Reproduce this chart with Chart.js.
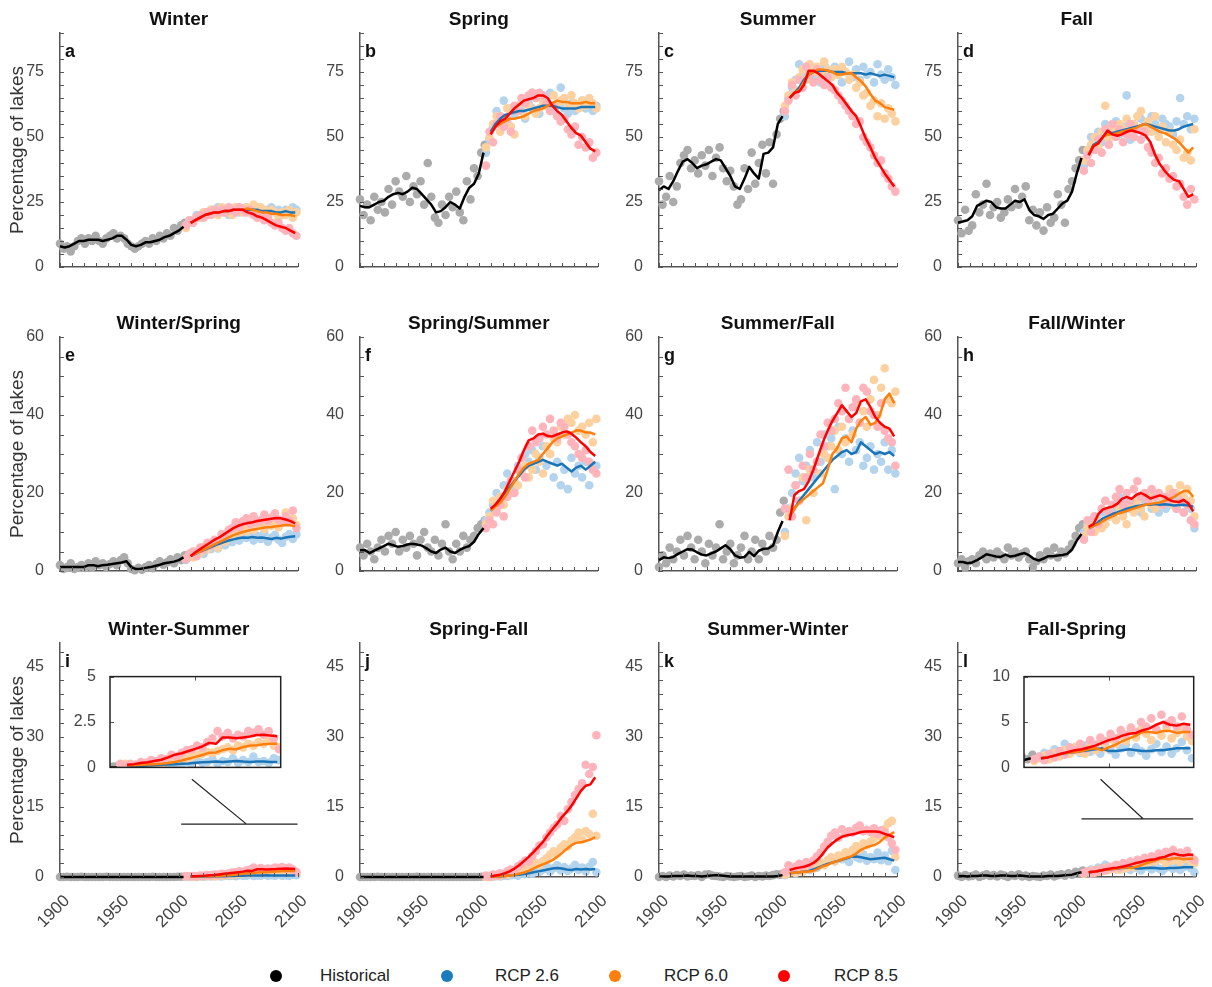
<!DOCTYPE html>
<html>
<head>
<meta charset="utf-8">
<title>Percentage of lakes by seasonal regime</title>
<script src="https://cdn.jsdelivr.net/npm/chart.js@4"></script>
<style>
  body { margin: 0; background: #fff; font-family: "Liberation Sans", Arial, sans-serif; }
  #wrap { position: relative; width: 1212px; height: 987px; overflow: hidden; }
  canvas { position: absolute; }
  .key { position: absolute; top: 966px; font-size: 17px; color: #222; line-height: 20px; }
  .dot { position: absolute; top: 970px; width: 12px; height: 12px; border-radius: 50%; }
</style>
</head>
<body>
<div id="wrap">
  <span class="dot" style="left:270px;background:#000"></span><span class="key" style="left:320px">Historical</span>
  <span class="dot" style="left:441px;background:#1a7bbf"></span><span class="key" style="left:495px">RCP 2.6</span>
  <span class="dot" style="left:609px;background:#ff7f0e"></span><span class="key" style="left:664px">RCP 6.0</span>
  <span class="dot" style="left:778px;background:#ff0000"></span><span class="key" style="left:834px">RCP 8.5</span>
</div>
<script>
Chart.defaults.font.family = '"Liberation Sans", Arial, sans-serif';

// x positions (years)
const histDotYears = [1900,1903,1906,1909,1912,1915,1918,1921,1924,1927,1930,1933,1936,1939,1942,1945,1948,1951,1954,1957,1960,1963,1966,1969,1972,1975,1978,1981,1984,1987,1990,1993,1996,1999,2002,2005];
const histLineYears = [1900,1904,1908,1912,1916,1920,1924,1928,1932,1936,1940,1944,1948,1952,1956,1960,1964,1968,1972,1976,1980,1984,1988,1992,1996,2000,2004];
const rcpDotYears = [2006,2009,2012,2015,2018,2021,2024,2027,2030,2033,2036,2039,2042,2045,2048,2051,2054,2057,2060,2063,2066,2069,2072,2075,2078,2081,2084,2087,2090,2093,2096,2099];
const rcpLineYears = [2010,2014,2018,2022,2026,2030,2034,2038,2042,2046,2050,2054,2058,2062,2066,2070,2074,2078,2082,2086,2090,2094,2098];

// ticks
const xMinorTicks = [1900,1910,1920,1930,1940,1950,1960,1970,1980,1990,2000,2010,2020,2030,2040,2050,2060,2070,2080,2090,2100];
const xTickLabels = [1900,1950,2000,2050,2100];
const rowYMax = [90, 60, 50];
const rowYMinor = [
  [0,5,10,15,20,25,30,35,40,45,50,55,60,65,70,75,80,85,90],
  [0,5,10,15,20,25,30,35,40,45,50,55,60],
  [0,3,6,9,12,15,18,21,24,27,30,33,36,39,42,45,48]
];
const rowYLabels = [[0,25,50,75],[0,20,40,60],[0,15,30,45]];

// a  Winter
const aHistDots = [9,7,8,6,8,10,11,9,11,10,12,10,9,11,12,13,11,12,11,9,8,7,8,9,10,9,11,10,12,11,13,12,15,14,16,17];
const aHistLine = [8,7.5,8,9,10,10,10.5,10.5,10.5,10,10.5,11,12,12,10.5,8.5,8,8.5,9.5,9.5,10,10.5,11.5,12,13,14,15.5];
const a26Dots = [16,18,17,20,19,21,20,22,21,23,21,22,20,22,23,21,22,23,21,22,23,22,21,22,23,21,22,20,22,21,23,22];
const a26Line = [17,18,19,20,20.5,21,21,21.5,21.5,22,22,22,22,22,22,21.5,21.5,21.5,21,21,21.5,21,21];
const a60Dots = [15,17,18,19,19,21,20,22,21,20,23,21,22,20,23,22,21,23,22,24,21,23,22,20,22,21,19,21,20,22,19,21];
const a60Line = [17,18,19,20,20.5,21,21,21.5,21.5,22,22,22,22.5,22,21.5,21,21,20.5,20.5,20,20,20,19.5];
const a85Dots = [16,18,17,19,20,19,21,20,22,21,22,21,23,22,21,23,22,21,22,20,19,20,18,19,17,16,17,15,14,15,13,12];
const a85Line = [17,18,19,20,20.5,21,21,21.5,21.5,22,22,22,21,20.5,19.5,19,18,17,16,15.5,15,14,13];

// b  Spring
const bHistDots = [26,20,24,18,27,22,25,21,30,24,33,29,27,35,25,31,28,33,24,40,27,19,17,24,20,27,23,29,21,18,33,26,38,35,44,47];
const bHistLine = [23.5,23,23,24,25,25.5,27,28,28.5,28,29,30.5,30,28,26,24,21,21.5,23,25,24,22.5,27,30.5,32,36,44];
const b26Dots = [44,49,54,60,58,64,56,61,59,62,60,57,63,61,66,59,62,64,67,60,62,69,61,59,63,60,62,64,61,63,60,62];
const b26Line = [52,55,57,58.5,59,59.5,60,60,60.5,61,61.5,62,62,62,61.5,61,61,61,61,61.5,61.5,61.5,61.5];
const b60Dots = [46,50,55,58,52,57,61,54,51,60,63,58,62,67,59,61,64,62,60,66,63,64,65,62,66,63,61,64,62,65,63,61];
const b60Line = [51,54,55,56,57,57,57.5,58,59,60,60.5,61,62,63,64,63.5,63.5,63,63,63,63.5,63,63];
const b85Dots = [39,52,48,55,58,54,57,52,62,60,65,63,66,67,65,67,66,63,60,62,58,56,57,53,51,54,47,50,46,48,42,44];
const b85Line = [51,54,56,57,59,61,62.5,64,64.5,65,66,66,65,62,60,58.5,56,53.5,51.5,50.5,48,45.5,44.5];

// c  Summer
const cHistDots = [33,24,27,35,25,31,40,43,45,38,41,36,43,39,45,35,42,46,38,33,37,31,24,26,38,30,44,32,40,47,36,48,32,51,57,60];
const cHistLine = [29.5,31,30,33,37,40.5,41.5,40,38,39,39.5,40.5,41.5,41,38,35,31,30,34,38.5,36,34,43.5,44,46,55,58];
const c26Dots = [58,65,69,72,78,74,77,75,73,76,71,78,75,73,77,74,71,75,79,73,76,72,77,74,75,71,78,74,72,76,73,70];
const c26Line = [65,67,69,72,74,75,75.5,75.5,75.5,75,75,75,74.5,74.5,74.5,74.5,74,74.5,74,73.5,74,73.5,73];
const c60Dots = [62,66,71,68,73,76,72,78,75,77,74,79,76,73,76,74,77,75,72,74,69,71,66,67,62,64,58,63,57,61,59,56];
const c60Line = [65,67,68,71,74,75,76,76,75.5,75,74,74,74.5,74.5,73,71.5,69.5,66.5,64,63,61.5,61,60.5];
const c85Dots = [60,64,70,66,72,69,77,74,71,76,72,70,73,69,68,66,64,62,60,58,55,56,50,48,46,43,40,41,36,34,31,29];
const c85Line = [65,67,67.5,70,75.5,75.5,74.5,73,71.5,70,67,65,62.5,60,58,54,49.5,46,42,39,36,33.5,31];

// d  Fall
const dHistDots = [18,13,22,14,16,28,21,24,32,20,23,25,19,21,26,23,30,24,27,31,18,22,16,21,14,23,17,19,28,24,17,30,33,38,41,45];
const dHistLine = [17,17.5,18,19.5,23.5,24.5,25.5,25,23,22.5,22.5,24,25.5,25,26,22,20,19.5,18.5,20,20.5,22.5,24.5,25.5,29,36,42];
const d26Dots = [39,44,50,46,52,48,55,50,53,56,51,54,66,49,55,53,57,51,54,58,55,52,57,55,54,51,56,65,55,58,53,57];
const d26Line = [43,47,48,50,51.5,51.5,52,52.5,53,53.5,54,54.5,55,54.5,54,53.5,53,52.5,52.5,53,54,54.5,55];
const d60Dots = [41,45,47,50,46,52,62,49,54,51,55,53,57,52,55,58,60,54,56,52,58,50,54,48,52,47,45,49,42,44,41,53];
const d60Line = [43,46.5,47.5,50,51,51,51.5,52,52.5,53,53.5,54.5,55,54,53,52,51.5,50.5,49.5,48,46,44,46];
const d85Dots = [37,43,40,45,49,44,53,47,55,50,53,48,51,55,50,53,49,52,46,44,40,42,36,38,34,35,31,32,27,24,30,26];
const d85Line = [43,46.5,47.5,50,52.5,51,50.5,51,52,52.5,52,51.5,50.5,48,43,39.5,37,35,33.5,33,30,27,28];

// e  Winter/Spring
const eHistDots = [1.5,0.5,1,2,0.5,1,1.5,0.8,2,1,2.5,1.5,2,1,1.8,2.5,1.5,2.8,3.5,2,0.5,0.2,0.8,0.3,1,1.5,0.7,1.8,2.5,1.6,2.2,3,2,3.5,2.8,4];
const eHistLine = [1,1,1,1,1,1,1.5,1.5,1.2,1.5,1.6,1.8,2,2.2,2.5,1,0.5,0.6,0.8,1,1.3,1.6,2,2.2,2.4,2.8,3.5];
const e26Dots = [2.8,3.6,4.6,3.9,5.2,4.4,6,5.6,6.4,5.8,7.4,6.6,8,7.4,8.8,7.8,9.6,8.5,9.2,7.8,9,8.2,9.8,7.5,8.6,9.3,8,7.2,8.8,9.5,8.2,9.4];
const e26Line = [3.8,4.4,5,5.5,6,6.5,7,7.4,7.8,8.1,8.4,8.6,8.5,8.7,8.5,8.6,8.4,8.2,8.5,8.3,8.6,8.8,8.9];
const e60Dots = [3.2,4,3.5,5,4.6,6.2,5.5,6.8,7,6,8.2,7.5,9.5,8.8,10.5,9.8,11,10.2,12,10.6,11.5,12.5,10.8,12.2,11.6,13,11.2,12.4,15,12.6,13.5,11.8];
const e60Line = [3.8,4.5,5,5.6,6.2,6.8,7.4,8,8.6,9.2,9.6,10,10.3,10.6,10.8,11,11.2,11.3,11.5,11.6,11.8,11.7,11.5];
const e85Dots = [3,4.5,5,3.8,6,5.5,7.2,6.5,8,7.5,9.5,8.6,10.5,11,12.5,11.2,12.8,13.5,12,14,12.5,13,14.5,12.8,13.8,14.8,13.2,12.5,14,13,15.5,11];
const e85Line = [3.8,4.8,5.6,6.4,7.2,8,8.6,9.4,10.2,11,11.6,12,12.3,12.5,12.8,13,13.2,13.4,13.6,13.5,13.2,12.8,12.2];

// f  Spring/Summer
const fHistDots = [6,4,7,5,3,6,8,5,9,7,10,5,8,6,9,7,4,8,10,6,5,8,4,7,12,5,3,7,5,9,6,8,9,11,12,13];
const fHistLine = [5.3,5.4,4.6,5.2,5.8,6.4,7,6.6,6.2,6.4,6.8,7,6.8,6.5,5.8,5,4.6,5.5,6,5,4.6,5.4,6,6.4,7.5,9.5,11];
const f26Dots = [13,15,17,20,18,22,25,23,21,27,26,30,28,31,26,29,32,27,30,24,28,22,26,21,29,25,27,24,28,22,26,27];
const f26Line = [15.5,17,18.5,20,21.5,23,24.5,26,27,27.5,28,28.5,28,27.5,27,27.5,26.5,25.5,26.5,27,26,27,28];
const f60Dots = [12,14,18,16,19,17,21,20,23,22,25,27,24,26,30,28,25,32,30,34,33,37,35,39,38,40,36,37,35,38,33,39];
const f60Line = [15.5,16.5,17.5,19,21,23,25,26.5,27.5,28,28.5,30,31.5,33,34,34.5,35,35.5,36,36,35.5,35.5,35];
const f85Dots = [11,13,12,15,17,14,19,23,20,26,29,24,32,36,33,34,37,35,39,36,34,38,37,35,33,32,30,29,31,28,26,25];
const f85Line = [16,17,18.5,20.5,23,25.5,28,31,33.5,34,35,35.2,34.6,34.5,35,35.5,35.8,35.2,34.2,33,32,30.5,29.5];

// g  Summer/Fall
const gHistDots = [1,4,2,6,3,5,8,4,9,6,3,8,5,2,7,4,6,12,3,5,7,2,4,6,9,3,5,8,3,7,5,9,6,8,15,18];
const gHistLine = [2.8,3.5,3.3,3.6,4.4,5,5.6,5.5,4.8,4.2,4,4.5,5,5.8,6.6,5.6,4,3.4,3.6,4.9,3.8,5.2,5.7,5.8,6.5,10,12.8];
const g26Dots = [10,16,20,25,29,23,27,31,24,33,28,35,32,34,21,37,30,34,28,36,31,33,27,29,32,26,30,28,33,26,31,25];
const g26Line = [14,16,18,19.5,21,22.5,24,25.5,27,28.5,29.5,30.5,31,30,30.5,33,32,31,30,30.5,30,30.5,29.5];
const g60Dots = [9,14,16,22,18,24,13,26,20,28,25,30,29,32,36,31,37,33,39,35,43,38,41,37,44,49,40,47,52,44,43,46];
const g60Line = [14,16,17.5,18.5,19.5,20.5,21.5,22.5,26,30,31.5,34,34.5,33,36.5,38.5,39.5,37.5,38,40,44,45.5,43];
const g85Dots = [16,26,14,22,18,27,24,30,26,28,35,32,38,36,39,43,41,47,39,42,44,38,47,46,41,40,37,43,36,34,33,27];
const g85Line = [13,19.5,20.5,21,23,26,29.5,33,36,38.5,40.5,42.5,41,39.5,40.5,43.5,44,42,39.5,38,37,36.5,34.5];

// h  Fall/Winter
const hHistDots = [2,3,1,2.5,3,2,4,5,3,4.5,3.5,5,4,3,6,4,5,3.5,4.5,5,3,1,2.5,4,3,5,4,6,3.5,5,4.5,5.5,7,9,11,12];
const hHistLine = [2.3,2.3,2,2.2,2.8,3.5,4.3,4,3.7,3.6,4.2,3.7,3.9,4.3,4.6,4,3.1,2.7,3.2,3.8,3.8,4,4.1,4.4,5.5,7.8,9.5];
const h26Dots = [10,12,13,14,12,15,18,14,16,17,19,15,18,16,17,19,15,18,20,16,17,15,18,16,17,19,16,18,15,17,16,11];
const h26Line = [11,11.5,12.5,13.5,14,14.6,15,15.5,16,16.3,16.6,16.8,17,17,17.2,17,17.1,17,16.8,16.9,17,16.8,16.5];
const h60Dots = [9,11,12,10,13,11,12,15,14,13,16,14,12,17,15,18,16,14,19,17,16,20,19,18,21,17,20,22,19,21,18,14];
const h60Line = [11,11.5,12,12.8,13.5,14,14.6,15,15.4,15.8,16.2,16.6,17,17.2,17.4,17.6,18,18.4,19,19.8,20.5,20.5,19];
const h85Dots = [8,13,10,14,12,16,18,15,17,19,21,17,20,18,21,23,19,20,18,21,19,20,17,19,18,20,16,18,15,17,13,12];
const h85Line = [11.3,12,14.5,15.8,16.2,16.5,17.2,18.5,19,18.5,19.5,20,19.4,18.6,19,19.4,19,18.2,17.8,17.7,18.2,17.3,15.3];

// i  Winter-Summer
const iHistDots = [0,0,0.05,0,0,0,0.05,0,0,0,0,0,0,0.05,0,0,0,0,0,0,0,0,0,0,0,0,0.05,0,0,0,0,0,0,0.05,0.05,0.1];
const iHistLine = [0,0,0,0,0,0,0,0,0,0,0,0,0,0,0,0,0,0,0,0,0,0,0,0,0,0,0];
const i26Dots = [0,0.05,0.1,0,0.1,0.05,0.15,0.1,0.2,0.15,0.1,0.25,0.2,0.3,0.15,0.4,0.25,0.3,0.45,0.2,0.35,0.3,0.5,0.25,0.4,0.3,0.6,0.3,0.35,0.25,0.5,0.4];
const i26Line = [0.05,0.06,0.08,0.1,0.12,0.14,0.16,0.18,0.2,0.22,0.25,0.28,0.3,0.32,0.3,0.33,0.35,0.32,0.3,0.33,0.32,0.3,0.3];
const i60Dots = [0.1,0.2,0.05,0.15,0.1,0.2,0.15,0.25,0.1,0.3,0.4,0.35,0.5,0.45,0.6,0.7,0.75,0.85,0.8,0.9,1.0,1.1,0.95,1.2,1.1,1.3,1.2,1.4,1.3,1.5,1.2,1.1];
const i60Line = [0.1,0.12,0.14,0.16,0.18,0.2,0.24,0.3,0.38,0.48,0.58,0.68,0.8,0.82,0.95,1.03,1.0,1.12,1.2,1.22,1.27,1.3,1.3];
const i85Dots = [0.2,0.1,0.2,0.15,0.3,0.25,0.4,0.35,0.5,0.45,0.7,0.6,0.8,0.95,1.0,1.2,1.1,1.4,1.6,2.0,1.7,1.9,1.6,1.8,1.7,2.0,1.9,2.1,1.8,2.0,1.6,1.0];
const i85Line = [0.15,0.18,0.24,0.28,0.35,0.42,0.55,0.7,0.78,0.9,1.02,1.15,1.35,1.3,1.65,1.65,1.6,1.65,1.7,1.78,1.8,1.75,1.72];

// j  Spring-Fall
const jHistDots = [0,0,0,0,0,0.05,0,0,0,0,0,0,0,0,0,0,0.05,0,0,0,0,0,0,0,0,0,0,0,0,0,0,0,0,0,0.05,0.1];
const jHistLine = [0,0,0,0,0,0,0,0,0,0,0,0,0,0,0,0,0,0,0,0,0,0,0,0,0,0,0];
const j26Dots = [0,0.1,0,0.2,0.1,0.3,0.2,0.4,0.5,0.3,0.8,0.6,1.0,0.7,1.3,1.1,1.6,2.4,1.2,1.9,2.5,1.4,2.1,1.3,1.8,2.6,1.5,2.0,1.2,2.2,3.2,1.0];
const j26Line = [0.05,0.1,0.15,0.2,0.3,0.4,0.5,0.65,0.8,1.0,1.2,1.4,1.6,1.8,1.9,1.8,1.6,1.5,1.7,1.6,1.7,1.6,1.7];
const j60Dots = [0,0.2,0.1,0.4,0.3,0.6,0.5,0.8,1.2,1.0,1.6,2.2,1.9,2.7,3.0,2.6,3.4,4.0,4.8,5.5,5.0,6.3,7.0,6.5,7.8,8.5,9.5,8.0,9.8,9.2,13.5,8.8];
const j60Line = [0.05,0.1,0.15,0.2,0.3,0.45,0.7,0.95,1.3,1.8,2.3,2.7,3.1,3.6,4.3,5.1,6,6.8,7.3,7.4,7.7,8,8.5];
const j85Dots = [0.3,0,0.5,0.2,0.8,0.5,1.2,1.6,1.1,2.3,2.8,3.5,3.3,4.5,5.5,6.7,7,8.5,9.5,10.5,11.2,13,12,14.5,16,17.5,18.8,20,24,22,23.5,30.3];
const j85Line = [0.1,0.3,0.5,0.8,1.2,1.8,2.5,3.4,4.3,5.3,6.4,7.5,8.9,10.2,11.4,12.8,13.9,15.2,16.8,18.4,19.5,19.8,21.3];

// k  Summer-Winter
const kHistDots = [0,0.2,0,0.3,0.1,0.4,0.2,0.5,0.1,0.3,0.2,0.4,0,0.5,0.6,0.3,0.2,0.1,0,0.2,0.1,0,0.1,0.2,0,0.1,0.3,0,0.2,0.1,0.3,0.2,0.4,0.6,0.5,0.8];
const kHistLine = [0.1,0.1,0.1,0.2,0.2,0.2,0.3,0.2,0.2,0.1,0.2,0.3,0.4,0.3,0.2,0.1,0.1,0.1,0.1,0.1,0.1,0.1,0.1,0.1,0.1,0.2,0.4];
const k26Dots = [0.4,0.9,1.3,0.8,1.6,1.2,2,1.5,2.6,2,3.1,2.8,3.6,4.1,3.3,4.5,3.8,4.4,3.2,5,4.3,3.9,4.8,3.5,4.2,3.8,5.2,3.6,4.6,3.4,5.6,1.5];
const k26Line = [0.8,0.9,1.0,1.1,1.3,1.6,2.0,2.4,2.8,3.1,3.4,3.7,4.0,4.3,4.4,4.2,4.0,3.8,3.9,4.0,4.1,3.8,3.5];
const k60Dots = [0.5,0.8,1.2,0.9,1.4,1.1,1.6,2.2,1.8,2.6,3,2.5,3.6,4.2,3.4,4.6,4.1,5.3,4.8,5.8,6.6,6,7.2,6.8,7.6,8.3,9,8.6,10.2,11.5,12,4.3];
const k60Line = [0.8,0.9,1.0,1.1,1.2,1.3,1.8,2.3,2.6,3.1,3.4,3.8,4.1,4.4,5.0,5.8,6.3,6.6,6.9,7.5,8.4,9.0,9.6];
const k85Dots = [1,2.5,1.5,2.2,2.8,2,3.2,2.6,3.5,4.4,5.2,6.5,7.5,8.8,9.5,8.4,10.2,9.2,9.8,9.5,10.5,11,9.8,10.1,9.6,10.4,9.2,10,9.5,8.5,7.2,5.8];
const k85Line = [1.5,1.8,2.0,2.2,2.5,3.0,3.8,5.0,6.3,7.2,8.0,8.6,8.9,9.1,9.3,9.6,9.7,9.7,9.7,9.6,9.2,8.9,8.5];

// l  Fall-Spring
const lHistDots = [0.3,0,0.4,0.1,0.2,0.5,0,0.3,0.6,0.2,0.4,0.1,0.5,0.3,0,0.4,0.2,0.6,0.1,0.3,0,0.2,0.1,0,0.3,0.2,0.5,0.1,0.4,0.6,0.3,0.8,0.5,1.1,0.9,1.4];
const lHistLine = [0.2,0.2,0.1,0.2,0.2,0.3,0.3,0.2,0.2,0.3,0.3,0.2,0.2,0.3,0.2,0.1,0.1,0.1,0.1,0.2,0.2,0.2,0.3,0.4,0.5,0.8,1.0];
const l26Dots = [0.8,1.2,1.6,1.1,2.0,1.4,2.6,1.8,2.2,1.6,2.4,1.7,2.0,1.5,2.3,1.9,1.4,2.1,2.5,1.6,2.2,1.8,1.3,2.0,2.6,1.7,2.3,1.5,2.1,2.8,1.9,1.0];
const l26Line = [1.0,1.1,1.3,1.5,1.6,1.7,1.8,1.9,2.0,2.1,1.8,1.8,1.9,2.0,1.9,1.8,1.8,1.9,1.9,2.0,2.1,2.1,2.1];
const l60Dots = [0.7,1.0,1.3,0.9,1.6,1.2,1.9,1.5,2.2,1.7,1.5,2.4,1.9,2.8,2.1,3.1,2.6,3.5,2.9,4.0,3.3,4.2,3.7,3.0,4.1,3.5,4.4,3.2,3.8,4.3,3.4,2.9];
const l60Line = [1.0,1.1,1.3,1.5,1.6,1.7,1.8,2.0,2.1,1.9,2.2,2.5,2.9,3.2,3.5,3.9,3.9,3.8,4.0,4.0,3.8,3.9,3.9];
const l85Dots = [0.9,1.2,0.8,1.5,1.1,1.8,1.4,2.2,1.9,2.6,2.0,3.0,2.5,3.3,2.9,3.7,3.2,4.1,3.6,4.4,3.9,5.0,4.5,5.4,4.2,5.8,4.8,5.2,4.5,5.6,4.2,3.6];
const l85Line = [1.0,1.1,1.3,1.5,1.7,1.9,2.0,2.2,2.4,2.7,3.0,3.2,3.5,3.7,3.8,4.1,4.3,4.7,5.0,4.7,4.6,4.8,4.7];

// inset axes and the callout lines (main-panel data units)
const insetXTicks = [2050];
const iInsetYTicks = [0, 2.5, 5];
const lInsetYTicks = [0, 5, 10];
const iCallout = [[2002, 11.3, 2100, 11.3], [2011, 20.9, 2057, 11.3]];
const lCallout = [[2004, 12.4, 2098, 12.4], [2020, 20.9, 2056, 12.4]];

const panels = [
  {letter:'a', title:'Winter',        row:0, col:0, hist:[aHistDots,aHistLine], r26:[a26Dots,a26Line], r60:[a60Dots,a60Line], r85:[a85Dots,a85Line]},
  {letter:'b', title:'Spring',        row:0, col:1, hist:[bHistDots,bHistLine], r26:[b26Dots,b26Line], r60:[b60Dots,b60Line], r85:[b85Dots,b85Line]},
  {letter:'c', title:'Summer',        row:0, col:2, hist:[cHistDots,cHistLine], r26:[c26Dots,c26Line], r60:[c60Dots,c60Line], r85:[c85Dots,c85Line]},
  {letter:'d', title:'Fall',          row:0, col:3, hist:[dHistDots,dHistLine], r26:[d26Dots,d26Line], r60:[d60Dots,d60Line], r85:[d85Dots,d85Line]},
  {letter:'e', title:'Winter/Spring', row:1, col:0, hist:[eHistDots,eHistLine], r26:[e26Dots,e26Line], r60:[e60Dots,e60Line], r85:[e85Dots,e85Line]},
  {letter:'f', title:'Spring/Summer', row:1, col:1, hist:[fHistDots,fHistLine], r26:[f26Dots,f26Line], r60:[f60Dots,f60Line], r85:[f85Dots,f85Line]},
  {letter:'g', title:'Summer/Fall',   row:1, col:2, hist:[gHistDots,gHistLine], r26:[g26Dots,g26Line], r60:[g60Dots,g60Line], r85:[g85Dots,g85Line]},
  {letter:'h', title:'Fall/Winter',   row:1, col:3, hist:[hHistDots,hHistLine], r26:[h26Dots,h26Line], r60:[h60Dots,h60Line], r85:[h85Dots,h85Line]},
  {letter:'i', title:'Winter-Summer', row:2, col:0, hist:[iHistDots,iHistLine], r26:[i26Dots,i26Line], r60:[i60Dots,i60Line], r85:[i85Dots,i85Line],
   inset:{left:110, top:671, w:171, h:108, max:5, yTicks:iInsetYTicks}, callout:iCallout},
  {letter:'j', title:'Spring-Fall',   row:2, col:1, hist:[jHistDots,jHistLine], r26:[j26Dots,j26Line], r60:[j60Dots,j60Line], r85:[j85Dots,j85Line]},
  {letter:'k', title:'Summer-Winter', row:2, col:2, hist:[kHistDots,kHistLine], r26:[k26Dots,k26Line], r60:[k60Dots,k60Line], r85:[k85Dots,k85Line]},
  {letter:'l', title:'Fall-Spring',   row:2, col:3, hist:[lHistDots,lHistLine], r26:[l26Dots,l26Line], r60:[l60Dots,l60Line], r85:[l85Dots,l85Line],
   inset:{left:1024, top:671, w:170, h:108, max:10, yTicks:lInsetYTicks}, callout:lCallout}
];

const colLeft = [0, 300, 599, 898];
const rowTop = [0, 304, 610];

// titles, panel letters, inward tick marks, inset frame and callouts
const panelDeco = {
  id: 'panelDeco',
  beforeDraw(chart, args, o) {
    if (!o.box) return;
    const a = chart.chartArea;
    chart.ctx.save();
    chart.ctx.fillStyle = '#fff';
    chart.ctx.fillRect(a.left, a.top, a.right - a.left, a.bottom - a.top);
    chart.ctx.restore();
  },
  afterDraw(chart, args, o) {
    const ctx = chart.ctx, a = chart.chartArea, sx = chart.scales.x, sy = chart.scales.y;
    ctx.save();
    ctx.strokeStyle = '#555';
    ctx.lineWidth = 1;
    ctx.beginPath();
    o.xTicks.forEach(v => {
      const px = Math.round(sx.getPixelForValue(v)) + 0.5;
      ctx.moveTo(px, a.bottom); ctx.lineTo(px, a.bottom - 4);
      if (o.box) { ctx.moveTo(px, a.top); ctx.lineTo(px, a.top + 4); }
    });
    o.yTicks.forEach(v => {
      const py = Math.round(sy.getPixelForValue(v)) + 0.5;
      ctx.moveTo(a.left, py); ctx.lineTo(a.left + 4, py);
    });
    ctx.stroke();
    if (o.box) {
      ctx.strokeStyle = '#222';
      ctx.lineWidth = 1.5;
      ctx.strokeRect(a.left, a.top, a.right - a.left, a.bottom - a.top);
    }
    if (o.callout) {
      ctx.strokeStyle = '#222';
      ctx.lineWidth = 1.2;
      ctx.beginPath();
      o.callout.forEach(s => {
        ctx.moveTo(sx.getPixelForValue(s[0]), sy.getPixelForValue(s[1]));
        ctx.lineTo(sx.getPixelForValue(s[2]), sy.getPixelForValue(s[3]));
      });
      ctx.stroke();
    }
    if (o.title) {
      ctx.fillStyle = '#111';
      ctx.font = 'bold 19px "Liberation Sans", Arial, sans-serif';
      ctx.textAlign = 'center';
      ctx.fillText(o.title, (a.left + a.right) / 2, a.top - 8);
      ctx.font = 'bold 18px "Liberation Sans", Arial, sans-serif';
      ctx.textAlign = 'left';
      ctx.fillText(o.letter, a.left + 5, a.top + 24);
    }
    ctx.restore();
  }
};

function pts(xs, ys) {
  return ys.map((y, i) => ({x: xs[i], y: y}));
}

function buildSets(p, clip) {
  const line = (xs, ys, color, order) => ({
    data: pts(xs, ys), showLine: true, borderColor: color, borderWidth: 2.5,
    pointRadius: 0, borderJoinStyle: 'round', order: order, clip: clip
  });
  const dots = (xs, ys, color, order) => ({
    data: pts(xs, ys), showLine: false, pointRadius: 4.3, pointBorderWidth: 0,
    backgroundColor: color, pointBackgroundColor: color, order: order, clip: clip
  });
  return [
    line(rcpLineYears, p.r85[1], '#ff0000', 1),
    line(rcpLineYears, p.r60[1], '#ff7f0e', 2),
    line(rcpLineYears, p.r26[1], '#1a74b8', 3),
    line(histLineYears, p.hist[1], '#000000', 4),
    dots(rcpDotYears, p.r85[0], '#ffb3bb', 5),
    dots(rcpDotYears, p.r60[0], '#fdd09f', 6),
    dots(rcpDotYears, p.r26[0], '#b3d4ec', 7),
    dots(histDotYears, p.hist[0], '#ababab', 8)
  ];
}

function addCanvas(left, top, w, h) {
  const c = document.createElement('canvas');
  c.width = w; c.height = h;
  c.style.left = left + 'px'; c.style.top = top + 'px';
  c.style.width = w + 'px'; c.style.height = h + 'px';
  document.getElementById('wrap').appendChild(c);
  return c;
}

panels.forEach(p => {
  const bottomRow = p.row === 2;
  const h = bottomRow ? 340 : 300;
  const xAxisH = h - 33 - 234;
  const canvas = addCanvas(colLeft[p.col], rowTop[p.row], 318, h);
  new Chart(canvas, {
    type: 'scatter',
    data: { datasets: buildSets(p, false) },
    options: {
      responsive: false,
      animation: false,
      layout: { padding: { top: 33, right: 18, left: 0, bottom: 0 } },
      plugins: {
        legend: { display: false },
        tooltip: { enabled: false },
        panelDeco: { title: p.title, letter: p.letter, xTicks: xMinorTicks, yTicks: rowYMinor[p.row], callout: p.callout }
      },
      scales: {
        x: {
          type: 'linear', min: 1900, max: 2100,
          afterBuildTicks: s => { s.ticks = xMinorTicks.map(v => ({value: v})); },
          afterFit: s => { s.height = xAxisH; },
          grid: { display: false },
          border: { display: true, color: '#555', width: 1.5 },
          ticks: {
            autoSkip: false, minRotation: 45, maxRotation: 45, padding: 6, labelOffset: 7,
            color: '#444', font: { size: 17 },
            callback: v => (bottomRow && xTickLabels.includes(v)) ? String(v) : ''
          }
        },
        y: {
          min: 0, max: rowYMax[p.row],
          afterBuildTicks: s => { s.ticks = rowYMinor[p.row].map(v => ({value: v})); },
          afterFit: s => { s.width = 60; },
          grid: { display: false },
          border: { display: true, color: '#555', width: 1.5 },
          title: { display: p.col === 0, text: 'Percentage of lakes', color: '#333', font: { size: 19 }, padding: { top: 6, bottom: 0 } },
          ticks: {
            autoSkip: false, padding: 8, color: '#444', font: { size: 16 },
            callback: v => rowYLabels[p.row].includes(v) ? String(v) : ''
          }
        }
      }
    },
    plugins: [panelDeco]
  });

  if (p.inset) {
    const s = p.inset;
    const ic = addCanvas(s.left - 40, s.top - 10, s.w + 44, s.h + 14);
    new Chart(ic, {
      type: 'scatter',
      data: { datasets: buildSets(p, 0) },
      options: {
        responsive: false,
        animation: false,
        layout: { padding: { top: 10, right: 4, left: 0, bottom: 0 } },
        plugins: {
          legend: { display: false },
          tooltip: { enabled: false },
          panelDeco: { box: true, xTicks: insetXTicks, yTicks: s.yTicks }
        },
        scales: {
          x: {
            type: 'linear', min: 2000, max: 2100,
            afterBuildTicks: sc => { sc.ticks = insetXTicks.map(v => ({value: v})); },
            afterFit: sc => { sc.height = 4; },
            grid: { display: false }, border: { display: false },
            ticks: { display: false }
          },
          y: {
            min: 0, max: s.max,
            afterBuildTicks: sc => { sc.ticks = s.yTicks.map(v => ({value: v})); },
            afterFit: sc => { sc.width = 40; },
            grid: { display: false }, border: { display: false },
            ticks: { padding: 6, color: '#444', font: { size: 16 } }
          }
        }
      },
      plugins: [panelDeco]
    });
  }
});
</script>
</body>
</html>
